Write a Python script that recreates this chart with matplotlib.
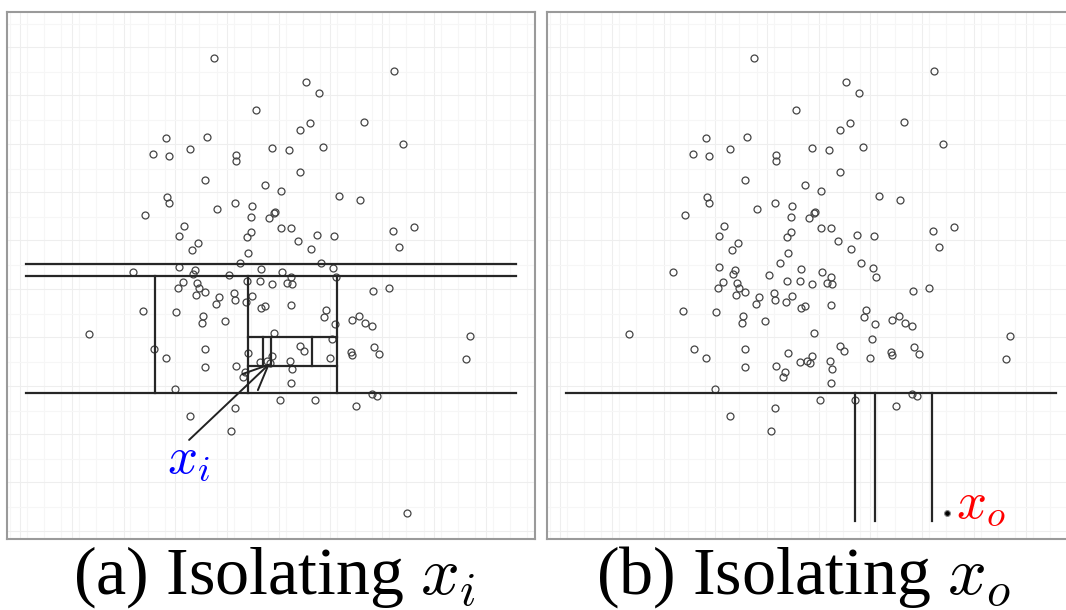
import numpy as np
import matplotlib
matplotlib.use('Agg')
import matplotlib.pyplot as plt

plt.rcParams['mathtext.fontset'] = 'cm'

# point cloud (same points in both panels), units
x_vals = [622, 1143, 889, 928, 745, 1058, 902, 871, 482, 602, 1170, 444, 492, 554,
          686, 686, 789, 840, 937, 871, 597, 770, 817, 984, 1045, 485, 492, 421,
          630, 682, 733, 800, 795, 730, 783, 534, 520, 730, 717, 817, 846, 866,
          922, 970, 1140, 1201, 1160, 576, 559, 720, 903, 697, 932, 520, 567, 562,
          759, 968, 387, 666, 818, 846, 975, 533, 573, 717, 756, 833, 848, 791,
          517, 578, 597, 569, 637, 679, 732, 684, 1083, 1129, 629, 716, 759, 770,
          845, 415, 512, 591, 587, 655, 948, 942, 972, 1043, 1021, 1060, 1079, 259,
          1364, 796, 965, 449, 482, 595, 597, 720, 872, 883, 791, 843, 848, 958,
          1020, 1021, 1086, 1101, 1354, 687, 757, 775, 712, 707, 845, 508, 1081,
          1094, 815, 916, 1035, 684, 553, 671]
y_vals = [174, 211, 245, 279, 330, 364, 367, 388, 414, 409, 431, 460, 467, 446,
          465, 481, 443, 448, 441, 515, 539, 554, 573, 586, 600, 591, 607, 644,
          626, 607, 618, 635, 638, 650, 653, 676, 706, 694, 711, 684, 682, 721,
          703, 706, 692, 679, 740, 727, 750, 758, 747, 787, 787, 801, 808, 822,
          805, 803, 816, 824, 815, 830, 829, 843, 848, 840, 840, 846, 851, 851,
          863, 862, 875, 884, 888, 878, 886, 897, 872, 861, 911, 903, 923, 917,
          914, 930, 935, 945, 968, 960, 928, 948, 970, 946, 959, 968, 975, 1000,
          1007, 998, 1016, 1045, 1073, 1045, 1100, 1058, 1037, 1050, 1065, 1082, 1105, 1073,
          1053, 1064, 1038, 1060, 1076, 1097, 1084, 1082, 1115, 1130, 1147, 1165, 1180,
          1187, 1197, 1199, 1216, 1223, 1245, 1290]

# the two highlighted points
xi_point = (785, 1088)
xo_point = (1182, 1536)

# splits of panel (a): horizontal (y, x0, x1) and vertical (x, y0, y1)
h_cuts_a = [(790, 77, 1497), (825, 77, 1497), (1177, 77, 1497),
            (1008, 720, 978), (1095, 720, 978)]
v_cuts_a = [(451, 825, 1177), (720, 825, 1177), (978, 825, 1177),
            (907, 1008, 1095), (763, 1008, 1095), (788, 1008, 1095)]

# splits of panel (b)
h_cuts_b = [(1177, 77, 1497)]
v_cuts_b = [(915, 1177, 1560), (973, 1177, 1560), (1137, 1177, 1560)]

W, H = 1066, 610
fig = plt.figure(figsize=(W / 100, H / 100), dpi=100)
ax_a = fig.add_axes([7 / W, 1 - 539 / H, 528 / W, 527 / H])
ax_b = fig.add_axes([547 / W, 1 - 539 / H, 528 / W, 527 / H])

line_col = '#262626'
pt_col = '#444444'

for ax in (ax_a, ax_b):
    ax.set_xlim(22, 1553)
    ax.set_ylim(1615, 35)
    ax.set_xticks(np.arange(60, 1553, 150))
    ax.set_xticks(np.arange(30, 1553, 50), minor=True)
    ax.set_yticks(np.arange(140, 1615, 145))
    ax.set_yticks(np.arange(70, 1615, 145), minor=True)
    ax.grid(True, which='major', color='#eeeeee', lw=0.8)
    ax.grid(True, which='minor', color='#f6f6f6', lw=0.8)
    ax.tick_params(which='both', length=0, labelbottom=False, labelleft=False)
    for s in ax.spines.values():
        s.set_color('#9a9a9a')
        s.set_linewidth(1.5)
    ax.plot(x_vals, y_vals, 'o', ms=5, mfc='none', mec=pt_col, mew=0.9, zorder=3)
    ax.plot(*xi_point, 'o', ms=5, mfc='none', mec=pt_col, mew=0.9, zorder=3)

# panel (a)
ax_a.plot(*xo_point, 'o', ms=5, mfc='none', mec=pt_col, mew=0.9, zorder=3)
for y, x0, x1 in h_cuts_a:
    ax_a.plot([x0, x1], [y, y], color=line_col, lw=1.6, zorder=4)
for x, y0, y1 in v_cuts_a:
    ax_a.plot([x, x], [y0, y1], color=line_col, lw=1.6, zorder=4)
ax_a.annotate('', xy=xi_point, xytext=(550, 1318),
              arrowprops=dict(arrowstyle='->,head_length=0.9,head_width=0.4',
                              lw=1.4, color='#222222', mutation_scale=20,
                              shrinkA=0, shrinkB=0), zorder=5)
ax_a.text(487, 1416, '$x_i$', color='#0000ff', fontsize=38,
          ha='left', va='baseline')

# panel (b)
ax_b.plot(*xo_point, 'o', ms=4.2, color='black', mec='#888888', mew=0.8, zorder=5)
for y, x0, x1 in h_cuts_b:
    ax_b.plot([x0, x1], [y, y], color=line_col, lw=1.6, zorder=4)
for x, y0, y1 in v_cuts_b:
    ax_b.plot([x, x], [y0, y1], color=line_col, lw=1.6, zorder=4)
ax_b.text(1207, 1553, '$x_o$', color='#ff0000', fontsize=38,
          ha='left', va='baseline')

# captions
fig.text(274 / W, 1 - 594 / H, '(a) Isolating $x_i$', ha='center', va='baseline',
         fontsize=49, family='Liberation Serif')
fig.text(803 / W, 1 - 594 / H, '(b) Isolating $x_o$', ha='center', va='baseline',
         fontsize=49, family='Liberation Serif')

plt.savefig('out.png', dpi=100)
